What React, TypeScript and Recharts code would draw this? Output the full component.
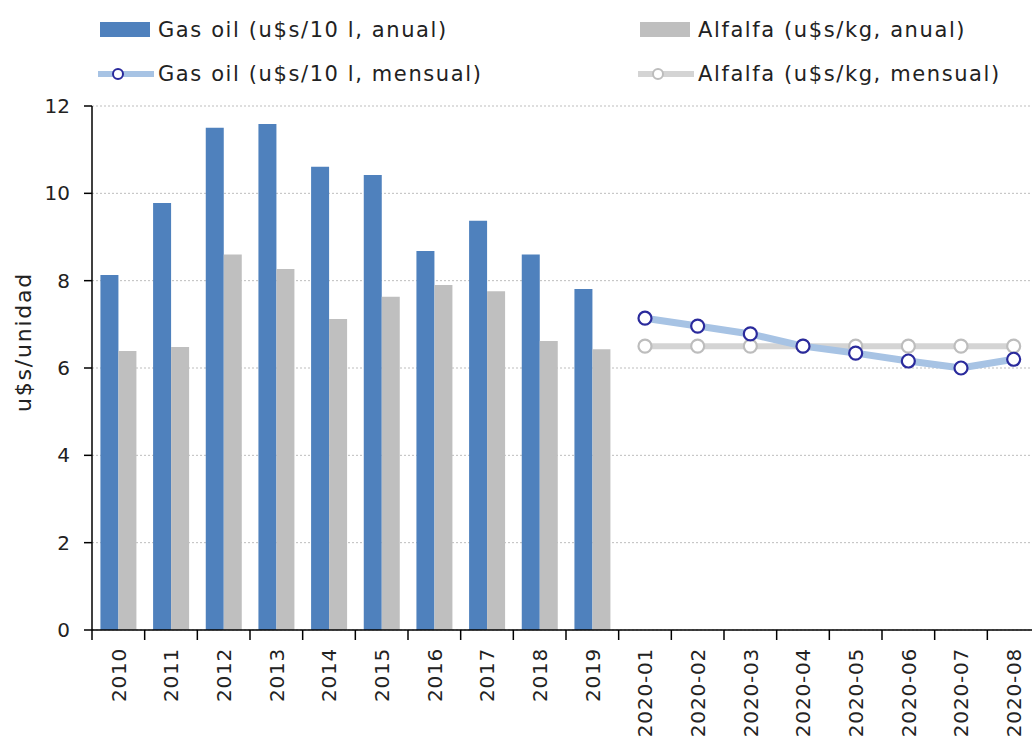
import * as React from 'react';
import {
  Bar,
  CartesianGrid,
  ComposedChart,
  Legend,
  Line,
  XAxis,
  YAxis,
} from 'recharts';

// Categories: ten annual values, then eight monthly values for 2020.
const CATEGORIES = [
  '2010', '2011', '2012', '2013', '2014', '2015', '2016', '2017', '2018', '2019',
  '2020-01', '2020-02', '2020-03', '2020-04', '2020-05', '2020-06', '2020-07', '2020-08',
];

const GASOIL_ANUAL = [8.13, 9.78, 11.5, 11.59, 10.61, 10.42, 8.68, 9.37, 8.6, 7.81];
const ALFALFA_ANUAL = [6.39, 6.48, 8.6, 8.27, 7.12, 7.63, 7.9, 7.76, 6.62, 6.43];
const GASOIL_MENSUAL = [7.14, 6.96, 6.78, 6.5, 6.34, 6.16, 6.0, 6.2];
const ALFALFA_MENSUAL = [6.5, 6.5, 6.5, 6.5, 6.5, 6.5, 6.5, 6.5];

const Y_TICKS = [0, 2, 4, 6, 8, 10, 12];

const LEGEND_LABELS = {
  gasAnual: 'Gas oil (u$s/10 l, anual)',
  alfAnual: 'Alfalfa (u$s/kg, anual)',
  gasMensual: 'Gas oil (u$s/10 l, mensual)',
  alfMensual: 'Alfalfa (u$s/kg, mensual)',
};

const BLUE = '#4F81BD';
const GRAY = '#BFBFBF';
const LINE_BLUE = '#A7C3E4';
const MARKER_BLUE = '#2A2A9C';
const LINE_GRAY = '#D4D4D4';
const MARKER_GRAY = '#BDBDBD';
const TEXT = '#222222';
const FONT = '"DejaVu Sans", sans-serif';

const nA = GASOIL_ANUAL.length;
const data = CATEGORIES.map((name, i) => ({
  name,
  gasAnual: i < nA ? GASOIL_ANUAL[i] : null,
  alfAnual: i < nA ? ALFALFA_ANUAL[i] : null,
  gasMensual: i >= nA ? GASOIL_MENSUAL[i - nA] : null,
  alfMensual: i >= nA ? ALFALFA_MENSUAL[i - nA] : null,
}));

const WIDTH = 1044;
const HEIGHT = 743;
const MARGIN = { top: 10, right: 4, left: 0, bottom: 0 };
const Y_WIDTH = 92;
const BAND = (WIDTH - MARGIN.left - MARGIN.right - Y_WIDTH) / CATEGORIES.length;

function XTick(props: any) {
  const { x, y, payload, index } = props;
  const half = BAND / 2;
  return (
    <g transform={`translate(${x},${y})`}>
      <line x1={-half} y1={0} x2={-half} y2={10} stroke="#000" strokeWidth={1.5} />
      {index === CATEGORIES.length - 1 ? (
        <line x1={half} y1={0} x2={half} y2={10} stroke="#000" strokeWidth={1.5} />
      ) : null}
      <text
        transform="rotate(-90)"
        x={-18}
        y={0}
        dy="0.36em"
        textAnchor="end"
        fill={TEXT}
        fontFamily={FONT}
        fontSize={20}
        letterSpacing={0.8}
      >
        {payload.value}
      </text>
    </g>
  );
}

function LegendItem({ kind, label }: { kind: string; label: string }) {
  let icon: React.ReactNode;
  if (kind === 'barBlue' || kind === 'barGray') {
    icon = <rect x={2} y={4} width={50} height={15} fill={kind === 'barBlue' ? BLUE : GRAY} />;
  } else {
    const stroke = kind === 'lineBlue' ? LINE_BLUE : LINE_GRAY;
    const mk = kind === 'lineBlue' ? MARKER_BLUE : MARKER_GRAY;
    icon = (
      <g>
        <line x1={0} y1={12} x2={56} y2={12} stroke={stroke} strokeWidth={6} />
        <circle cx={20} cy={12} r={5} fill="#fff" stroke={mk} strokeWidth={2} />
      </g>
    );
  }
  return (
    <div style={{ display: 'flex', alignItems: 'center', height: 40 }}>
      <svg width={58} height={24} style={{ flex: 'none' }}>
        {icon}
      </svg>
      <span
        style={{
          fontFamily: FONT,
          fontSize: 21,
          letterSpacing: 1.6,
          color: TEXT,
          marginLeft: 2,
          whiteSpace: 'nowrap',
        }}
      >
        {label}
      </span>
    </div>
  );
}

function ChartLegend() {
  return (
    <div
      style={{
        display: 'grid',
        gridTemplateColumns: '540px 400px',
        paddingLeft: 98,
        rowGap: 4,
      }}
    >
      <LegendItem kind="barBlue" label={LEGEND_LABELS.gasAnual} />
      <LegendItem kind="barGray" label={LEGEND_LABELS.alfAnual} />
      <LegendItem kind="lineBlue" label={LEGEND_LABELS.gasMensual} />
      <LegendItem kind="lineGray" label={LEGEND_LABELS.alfMensual} />
    </div>
  );
}

function YLabel() {
  return (
    <text
      transform="translate(23,342) rotate(-90)"
      textAnchor="middle"
      dy="0.36em"
      fill={TEXT}
      fontFamily={FONT}
      fontSize={22}
      letterSpacing={1.8}
    >
      u$s/unidad
    </text>
  );
}

export default function App() {
  return (
    <div
      style={{
        position: 'absolute',
        left: 0,
        top: 0,
        width: 1032,
        height: HEIGHT,
        overflow: 'hidden',
        background: '#fff',
      }}
    >
      <ComposedChart
        width={WIDTH}
        height={HEIGHT}
        data={data}
        margin={MARGIN}
        barCategoryGap="16%"
        barGap={0}
      >
        <CartesianGrid
          horizontal
          vertical={false}
          stroke="#BDBDBD"
          strokeDasharray="2 2"
        />
        <Legend
          verticalAlign="top"
          align="left"
          height={96}
          content={() => <ChartLegend />}
        />
        <XAxis
          dataKey="name"
          interval={0}
          height={HEIGHT - 630}
          axisLine={{ stroke: '#000', strokeWidth: 1.5 }}
          tickLine={false}
          tickSize={0}
          tickMargin={0}
          tick={<XTick />}
        />
        <YAxis
          width={Y_WIDTH}
          domain={[0, 12]}
          ticks={Y_TICKS}
          axisLine={{ stroke: '#000', strokeWidth: 1.5 }}
          tickLine={{ stroke: '#000', strokeWidth: 1.5 }}
          tickSize={8}
          tickMargin={14}
          tick={{ fill: TEXT, fontFamily: FONT, fontSize: 20 }}
          label={<YLabel />}
        />
        <Bar dataKey="gasAnual" fill={BLUE} isAnimationActive={false} legendType="none" />
        <Bar dataKey="alfAnual" fill={GRAY} isAnimationActive={false} legendType="none" />
        <Line
          dataKey="alfMensual"
          stroke={LINE_GRAY}
          strokeWidth={6}
          dot={{ r: 6.5, fill: '#fff', stroke: MARKER_GRAY, strokeWidth: 2.2 }}
          activeDot={false}
          isAnimationActive={false}
        />
        <Line
          dataKey="gasMensual"
          stroke={LINE_BLUE}
          strokeWidth={7}
          dot={{ r: 6.5, fill: '#fff', stroke: MARKER_BLUE, strokeWidth: 2.2 }}
          activeDot={false}
          isAnimationActive={false}
        />
      </ComposedChart>
    </div>
  );
}
